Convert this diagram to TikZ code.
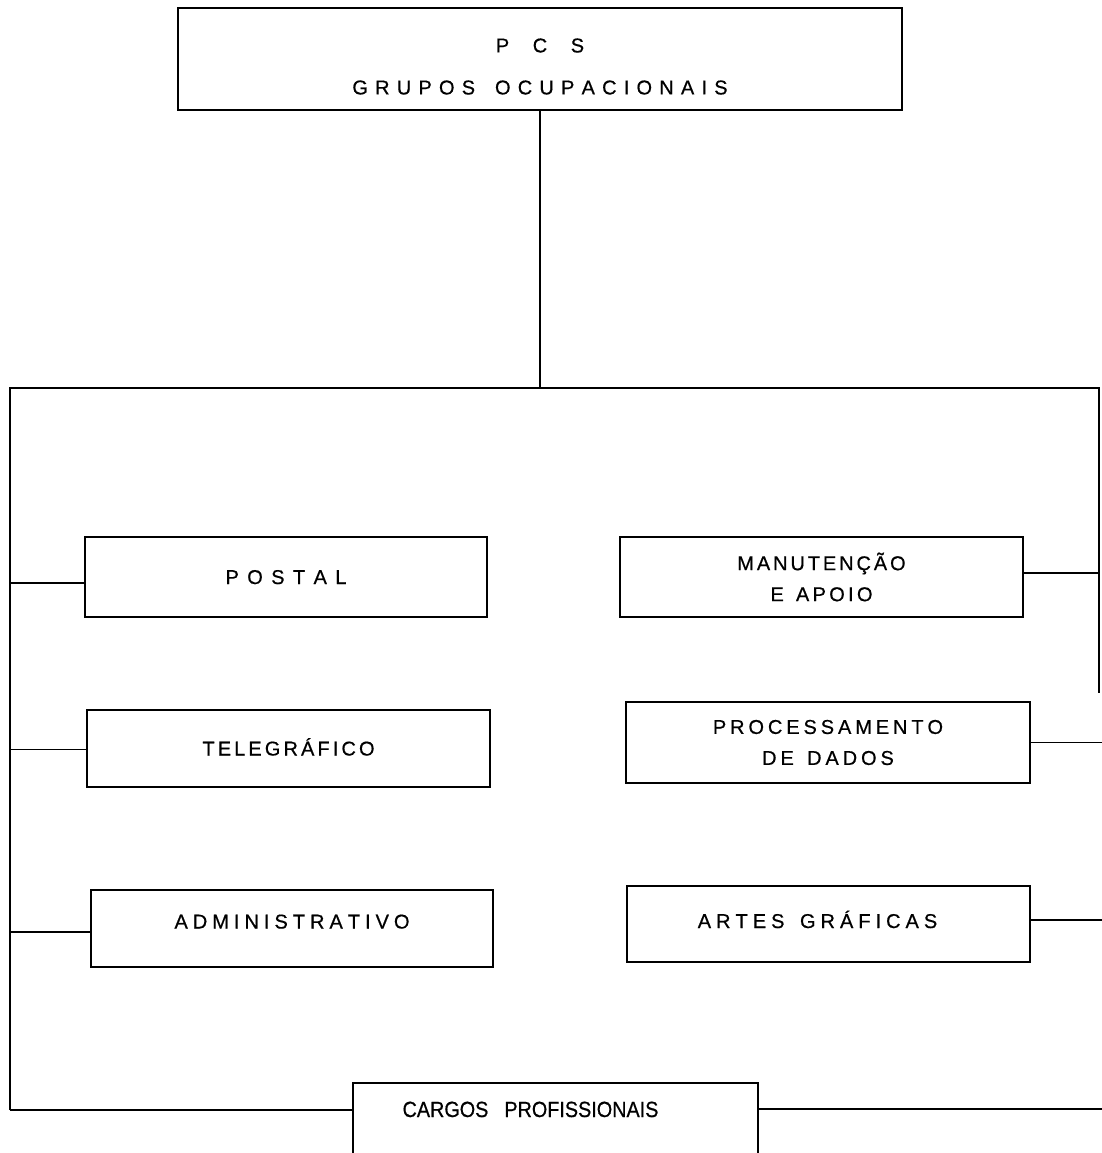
\documentclass[tikz,border=0pt]{standalone}
\usepackage{fontspec}
\setmainfont{Liberation Sans}[FakeBold=0.6]
\makeatletter
\newcommand\lsp[2]{\def\lsp@k{#1}\@tfor\lsp@c:=#2\do{\lsp@c\kern\lsp@k}\unkern}
\makeatother
\begin{document}
\begin{tikzpicture}[x=1pt,y=-1pt,
  line width=1.3pt,
  box/.style={draw, inner sep=0pt, font=\fontsize{20}{31}\selectfont},
  oneline/.style={box, text height=14pt, text depth=0pt},
  twoline/.style={box, align=center}]
\useasboundingbox (0,0) rectangle (1102,1153);
\clip (0,0) rectangle (1102,1153);
% top box
\node[box, minimum width=724pt, minimum height=102pt, font=\fontsize{20}{42}\selectfont] (top) at (540,59)
  {\raisebox{-6pt}[\height][\depth]{\begin{tabular}{@{}c@{}}\lsp{9pt}{P\ C\ S}\\\lsp{7.2pt}{GRUPOS\ OCUPACIONAIS}\end{tabular}}};
% frame coordinates
\coordinate (ftop) at (540,388);
\coordinate (fTL) at (10,388);
\coordinate (fTR) at (1099,388);
\coordinate (fRend) at (1099,693);
\coordinate (fBL) at (10,1110);
\coordinate (fBR) at (1102,1109);
\coordinate (redge) at (1102,0);
% left column
\node[oneline, minimum width=402pt, minimum height=80pt] (postal) at (286,577) {\lsp{8.4pt}{POSTAL}};
\node[oneline, minimum width=403pt, minimum height=77pt] (teleg) at (288.5,748.5) {\lsp{3.1pt}{TELEGRÁFICO}};
\node[oneline, text depth=14pt, minimum width=402pt, minimum height=77pt] (admin) at (292,928.5) {\lsp{5pt}{ADMINISTRATIVO}};
% right column
\node[twoline, minimum width=403pt, minimum height=80pt] (manut) at (821.5,577) {\lsp{2.9pt}{MANUTENÇÃO}\\\lsp{3.3pt}{E\ APOIO}};
\node[twoline, minimum width=404pt, minimum height=81pt] (proc) at (828,742.5) {\lsp{3.9pt}{PROCESSAMENTO}\\\lsp{3.9pt}{DE\ DADOS}};
\node[oneline, text depth=6pt, minimum width=403pt, minimum height=76pt] (artes) at (828.5,924) {\hspace*{-22pt}\lsp{5pt}{ARTES\ GRÁFICAS}};
% bottom box
\node[box, font=\fontsize{22}{24}\addfontfeature{FakeStretch=0.9}\selectfont, text height=34pt, text depth=60pt, minimum width=405pt, anchor=base] (cargos) at (555.5,1117)
  {CARGOS\hspace{16pt}PROFISSIONAIS\hspace*{50pt}};
% connectors
\draw (top.south) -- (ftop);
\draw (fBL) -- (fTL) -- (fTR) -- (fRend);
\draw (fBL) -- (fBL -| cargos.west);
\draw (cargos.east |- fBR) -- (fBR);
\draw ([yshift=-6pt]postal.west) -- ([yshift=-6pt]postal.west -| fTL);
\draw ([yshift=-1pt]teleg.west) -- ([yshift=-1pt]teleg.west -| fTL);
\draw ([yshift=-3.5pt]admin.west) -- ([yshift=-3.5pt]admin.west -| fTL);
\draw ([yshift=4pt]manut.east) -- ([yshift=4pt]manut.east -| fTR);
\draw (proc.east) -- (proc.east -| redge);
\draw ([yshift=4pt]artes.east) -- ([yshift=4pt]artes.east -| redge);
\end{tikzpicture}
\end{document}
